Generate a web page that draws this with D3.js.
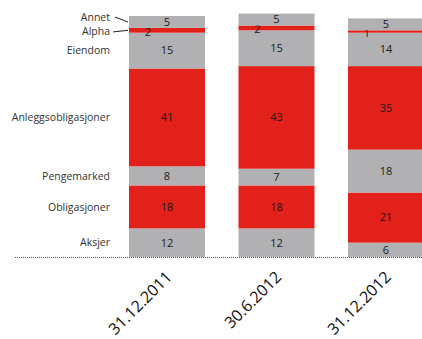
<!DOCTYPE html>
<html>
<head>
<meta charset="utf-8">
<script src="https://cdn.jsdelivr.net/npm/d3@7/dist/d3.min.js"></script>
<style>
  body { margin: 0; background: #fff; }
  svg { display: block; }
  text { font-family: "Open Sans", "Noto Sans", sans-serif; }
</style>
</head>
<body>
<svg id="chart"></svg>
<script>
// ======================
// DATA
// ======================
const dates = ["31.12.2011", "30.6.2012", "31.12.2012"];
const categories = ["Aksjer", "Obligasjoner", "Pengemarked", "Anleggsobligasjoner", "Eiendom", "Alpha", "Annet"];
const values2011 = [12, 18, 8, 41, 15, 2, 5];
const values2012a = [12, 18, 7, 43, 15, 2, 5];
const values2012b = [6, 21, 18, 35, 14, 1, 5];
const seriesValues = [values2011, values2012a, values2012b];

const red = "#e3211b";
const grey = "#b1b1b3";
const catColor = (i) => i % 2 === 0 ? grey : red;

// ======================
// SETUP
// ======================
const width = 422, height = 339;
const svg = d3.select("#chart").attr("width", width).attr("height", height);

const xScale = d3.scaleBand().domain(dates).range([129, 424]).paddingInner(0.306).paddingOuter(0);
const yScale = d3.scaleLinear().domain([0, 101]).range([257, 16]);

// stack rows
const rows = dates.map((d, i) => {
    const r = { date: d };
    categories.forEach((c, j) => r[c] = seriesValues[i][j]);
    return r;
});
const stacked = d3.stack().keys(categories)(rows);

// ======================
// BARS
// ======================
const layers = svg.selectAll(".layer")
    .data(stacked)
    .enter().append("g")
    .attr("class", "layer")
    .attr("fill", (d, i) => catColor(i));

layers.selectAll("rect")
    .data(d => d)
    .enter().append("rect")
    .attr("x", d => xScale(d.data.date))
    .attr("width", xScale.bandwidth())
    .attr("y", d => yScale(d[1]))
    .attr("height", d => yScale(d[0]) - yScale(d[1]));

// value labels
layers.each(function(layer, i) {
    const small = categories[i] === "Alpha";
    d3.select(this).selectAll("text")
        .data(layer)
        .enter().append("text")
        .attr("x", d => xScale(d.data.date) + xScale.bandwidth() / 2 - (small ? 19 : 0))
        .attr("y", d => (yScale(d[0]) + yScale(d[1])) / 2 + (small ? 1.5 : 0))
        .attr("dy", "0.35em")
        .attr("text-anchor", "middle")
        .attr("fill", "#1a1a1a")
        .attr("font-size", 11)
        .text(d => d.data[categories[i]]);
});

// baseline (dotted)
svg.append("line")
    .attr("x1", 15).attr("x2", width)
    .attr("y1", yScale(0) + 0.5).attr("y2", yScale(0) + 0.5)
    .attr("stroke", "#555")
    .attr("stroke-width", 1)
    .attr("stroke-dasharray", "1,1");

// ======================
// CATEGORY LABELS (left)
// ======================
const first = stacked.map(s => s[0]);
const labelPos = {
    "Annet": yScale(first[6][1]) + 1,
    "Alpha": yScale(first[5][1]) + 3
};
const barLeft = xScale(dates[0]);

categories.forEach((c, i) => {
    const mid = (yScale(first[i][0]) + yScale(first[i][1])) / 2;
    const y = labelPos[c] !== undefined ? labelPos[c] : mid;
    svg.append("text")
        .attr("x", 110)
        .attr("y", y)
        .attr("dy", "0.35em")
        .attr("text-anchor", "end")
        .attr("fill", "#333")
        .attr("font-size", 10.5)
        .text(c);
    if (labelPos[c] !== undefined) {
        svg.append("line")
            .attr("x1", c === "Annet" ? 115 : 113)
            .attr("y1", y + (c === "Annet" ? 0 : 1))
            .attr("x2", barLeft - 1)
            .attr("y2", c === "Annet" ? y + 5 : mid)
            .attr("stroke", "#222")
            .attr("stroke-width", 1);
    }
});

// ======================
// DATE LABELS (rotated)
// ======================
svg.selectAll(".date-label")
    .data(dates)
    .enter().append("text")
    .attr("class", "date-label")
    .attr("transform", d => `translate(${xScale(d) + xScale.bandwidth() / 2 + 6},${278}) rotate(-45)`)
    .attr("text-anchor", "end")
    .attr("fill", "#111")
    .attr("font-size", 16)
    .text(d => d);
</script>
</body>
</html>
